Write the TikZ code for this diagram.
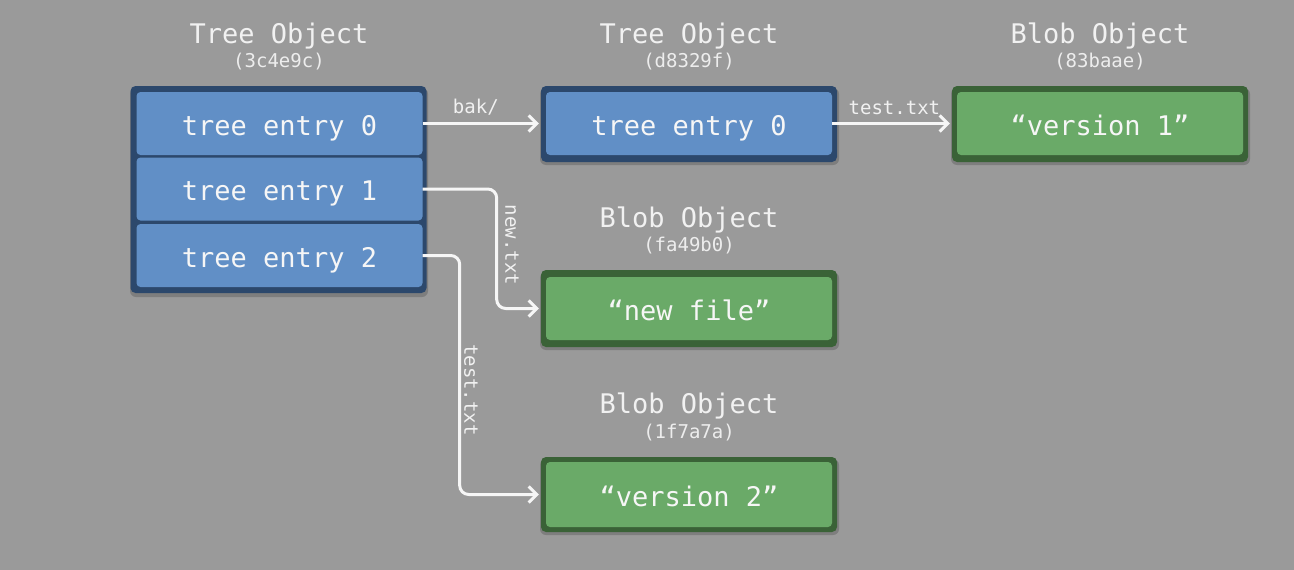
\documentclass[tikz,border=0pt]{standalone}
\usepackage{fontspec}
\setmonofont{DejaVu Sans Mono}
\usetikzlibrary{arrows.meta}
\definecolor{bg}{RGB}{154,154,154}
\definecolor{bluefill}{RGB}{97,143,198}
\definecolor{blueedge}{RGB}{44,72,108}
\definecolor{greenfill}{RGB}{106,170,104}
\definecolor{greenedge}{RGB}{58,98,55}
\definecolor{txt}{RGB}{246,246,246}
\tikzset{
  outerbox/.style={rectangle, rounded corners=5pt, inner sep=0pt, minimum width=296pt},
  treeouter/.style={outerbox, fill=blueedge},
  blobouter/.style={outerbox, fill=greenedge},
  entrybox/.style={rectangle, rounded corners=4pt, inner sep=0pt, minimum width=286pt, minimum height=63pt,
    text height=23pt, text depth=0pt,
    font=\ttfamily\fontsize{27}{27}\selectfont, text=txt},
  treeentry/.style={entrybox, fill=bluefill},
  blobentry/.style={entrybox, fill=greenfill},
  title/.style={font=\ttfamily\fontsize{27}{27}\selectfont, text=txt!95!bg},
  subtitle/.style={font=\ttfamily\fontsize{19}{19}\selectfont, text=txt!90!bg},
  lbl/.style={font=\ttfamily\fontsize{19}{19}\selectfont, text=txt!95!bg, inner sep=2pt},
  conn/.style={draw=txt, line width=3pt, rounded corners=9pt, -{Straight Barb[length=8pt,width=16pt,line width=3pt]}},
  shadow/.style={fill=black, opacity=0.18, rounded corners=6pt}
}
\begin{document}
\begin{tikzpicture}[x=1pt,y=-1pt]
\fill[bg] (0,0) rectangle (1294,570);
\useasboundingbox (0,0) rectangle (1294,570);
% shadows
\fill[shadow] (130,88) rectangle (428,297);
\fill[shadow] (540,88) rectangle (839,165);
\fill[shadow] (951,88) rectangle (1250,165);
\fill[shadow] (540,272) rectangle (839,350);
\fill[shadow] (540,459) rectangle (839,535);
% titles
\node[title] (t1title) at (279,36) {Tree Object};
\node[subtitle] (t1sub) at (279,62) {(3c4e9c)};
\node[title] (t2title) at (689,36) {Tree Object};
\node[subtitle] (t2sub) at (689,62) {(d8329f)};
\node[title] (b1title) at (1100,36) {Blob Object};
\node[subtitle] (b1sub) at (1100,62) {(83baae)};
\node[title] (b2title) at (689,220) {Blob Object};
\node[subtitle] (b2sub) at (689,246) {(fa49b0)};
\node[title] (b3title) at (689,406) {Blob Object};
\node[subtitle] (b3sub) at (689,433) {(1f7a7a)};
% tree 1
\node[treeouter, minimum height=207pt] (t1) at (278.5,189.5) {};
\node[treeentry] (e0) at (279.5,123.5) {tree entry 0};
\node[treeentry] (e1) at (279.5,189) {tree entry 1};
\node[treeentry] (e2) at (279.5,255.5) {tree entry 2};
% tree 2
\node[treeouter, minimum height=76pt] (t2) at (689,124) {};
\node[treeentry] (t2e0) at (689,123.5) {tree entry 0};
% blob 83baae
\node[blobouter, minimum height=76pt] (b1) at (1100,124) {};
\node[blobentry] (b1e) at (1100,123.5) {“version 1”};
% blob fa49b0
\node[blobouter, minimum height=77pt] (b2) at (689,308.5) {};
\node[blobentry] (b2e) at (689,308.5) {“new file”};
% blob 1f7a7a
\node[blobouter, minimum height=75pt] (b3) at (689,494.5) {};
\node[blobentry, minimum height=65pt] (b3e) at (689,494.5) {“version 2”};
% connectors
\draw[conn, shorten >=2pt] (e0.east) -- node[lbl, above, pos=0.45, yshift=5pt] (lbak) {bak/} (t2.west |- e0.east);
\draw[conn, shorten >=2pt] (t2e0.east) -- node[lbl, above, pos=0.52, yshift=5pt] (ltest1) {test.txt} (b1.west |- t2e0.east);
\draw[conn, shorten >=2pt] (e1.east) -- ++(74,0) |- (b2.west);
\draw[conn, shorten >=2pt] (e2.east) -- ++(37,0) |- (b3.west);
\node[lbl, rotate=-90] (lnew) at (512,245) {new.txt};
\node[lbl, rotate=-90] (ltest2) at (471,390) {test.txt};
\end{tikzpicture}
\end{document}
